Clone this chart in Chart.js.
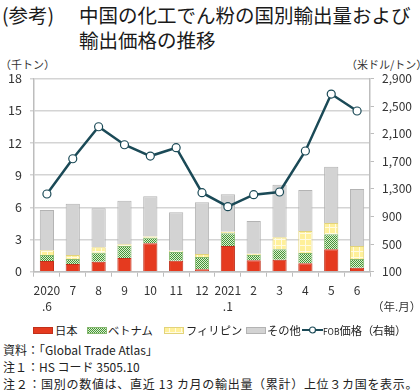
<!DOCTYPE html>
<html><head><meta charset="utf-8">
<script src="https://cdn.jsdelivr.net/npm/chart.js@4.4.1/dist/chart.umd.min.js"></script>
<style>
html,body{margin:0;padding:0;background:#fff;}
body{width:420px;height:390px;position:relative;overflow:hidden;font-family:"Noto Sans CJK JP","Noto Sans",sans-serif;color:#222;}
.abs{position:absolute;white-space:nowrap;}
.t{font-size:19.5px;line-height:25px;color:#1a1a1a;}
.u{font-size:11px;color:#333;}
.lg{font-size:11.3px;color:#222;line-height:14px;}
.nt{font-size:12px;color:#222;line-height:14px;}
.box{position:absolute;width:20px;height:7px;}
</style></head>
<body>
<div class="abs t" style="left:2px;top:2px;">(参考)</div>
<div class="abs t" style="left:79px;top:2px;">中国の化工でん粉の国別輸出量および</div>
<div class="abs t" style="left:79px;top:27px;">輸出価格の推移</div>
<div class="abs u" style="left:0px;top:56px;">（千トン）</div>
<div class="abs u" style="left:346px;top:56px;">（米ドル/トン）</div>
<canvas id="c" width="420" height="262" style="position:absolute;left:0;top:60px;"></canvas>
<div class="abs u" style="left:372px;top:298px;font-size:11.5px;">（年.月）</div>
<div id="legend"></div>
<div class="abs nt" style="left:3px;top:343px;">資料：「Global Trade Atlas」</div>
<div class="abs nt" style="left:3px;top:360px;">注１：HS コード 3505.10</div>
<div class="abs nt" style="left:3px;top:377px;letter-spacing:0.7px;">注２：国別の数値は、直近 13 カ月の輸出量（累計）上位３カ国を表示。</div>
<script>
const categories = [["2020",".6"],"7","8","9","10","11","12",["2021",".1"],"2","3","4","5","6"];
const japan       = [1.00,0.72,0.93,1.28,2.65,1.03,0.22,2.40,1.06,1.12,0.78,2.09,0.37];
const vietnam     = [0.55,0.46,0.84,1.12,0.52,0.81,1.15,1.18,0.50,0.97,0.96,1.40,0.81];
const philippines = [0.45,0.38,0.50,0.15,0.10,0.12,0.28,0.15,0.12,1.12,2.06,1.05,1.22];
const others      = [3.75,4.76,3.64,4.05,3.76,3.58,4.82,3.49,3.05,4.88,3.82,5.23,5.31];
const fobPrice    = [1226,1737,2201,1940,1776,1897,1245,1042,1216,1255,1849,2675,2429];
const leftTicks   = [0,3,6,9,12,15,18];
const rightTicks  = [100,500,900,1300,1700,2100,2500,2900];

function makePattern(kind){
  const c=document.createElement('canvas');
  const x=c.getContext('2d');
  if(kind==='green'){
    c.width=2;c.height=2;
    x.fillStyle='#dcefcf';x.fillRect(0,0,2,2);
    x.fillStyle='#46963a';x.fillRect(0,0,1,1);x.fillRect(1,1,1,1);
  } else {
    c.width=6;c.height=6;
    x.fillStyle='#fff09a';x.fillRect(0,0,6,6);
    x.fillStyle='#fffbe2';x.fillRect(5,0,1,6);x.fillRect(0,5,6,1);
  }
  return x.createPattern(c,'repeat');
}
const greenPat=makePattern('green');
const yellowPat=makePattern('yellow');
const LINE='#1b4a57';

// legend
const lg=document.getElementById('legend');
function addBox(left,fill,border,pat){
  const d=document.createElement('canvas');d.width=20;d.height=7;d.className='box';
  d.style.left=left+'px';d.style.top='327px';
  const x=d.getContext('2d');x.fillStyle=pat||fill;x.fillRect(0,0,20,7);
  x.strokeStyle=border;x.lineWidth=1;x.strokeRect(0.5,0.5,19,6);
  lg.appendChild(d);
}
function addText(left,txt){
  const d=document.createElement('div');d.className='abs lg';d.style.left=left+'px';d.style.top='323px';d.innerHTML=txt;lg.appendChild(d);
}
addBox(33,'#e53a1f','#c1301a');addText(55,'日本');
addBox(87,null,'#86b870',greenPat);addText(108,'ベトナム');
addBox(164,null,'#e2d37a',yellowPat);addText(186,'フィリピン');
addBox(246,'#d3d3d3','#b3b3b3');addText(267,'その他');
(function(){
  const d=document.createElement('canvas');d.width=21;d.height=12;d.style.position='absolute';d.style.left='302px';d.style.top='324px';
  const x=d.getContext('2d');x.strokeStyle=LINE;x.lineWidth=2;x.beginPath();x.moveTo(0,6);x.lineTo(21,6);x.stroke();
  x.fillStyle='#fff';x.lineWidth=1.2;x.beginPath();x.arc(10.5,6,3,0,Math.PI*2);x.fill();x.stroke();
  lg.appendChild(d);
})();
addText(323,'<span style="font-size:8.5px">FOB</span>価格<span style="letter-spacing:-1px">（</span>右軸<span>）</span>');

const tickFont={family:'"Noto Sans CJK JP","Noto Sans",sans-serif',size:12.5};
new Chart(document.getElementById('c'),{
  data:{
    labels:categories,
    datasets:[
      {type:'line',label:'FOB価格（右軸）',data:fobPrice,yAxisID:'y2',borderColor:LINE,borderWidth:2.5,
       pointRadius:4,pointBackgroundColor:'#fff',pointBorderColor:LINE,pointBorderWidth:1.2,tension:0,order:0},
      {type:'bar',label:'日本',data:japan,backgroundColor:'#e53a1f',borderColor:'#c1301a',borderWidth:1,yAxisID:'y',order:1},
      {type:'bar',label:'ベトナム',data:vietnam,backgroundColor:greenPat,borderColor:'#86b870',borderWidth:1,yAxisID:'y',order:1},
      {type:'bar',label:'フィリピン',data:philippines,backgroundColor:yellowPat,borderColor:'#e2d37a',borderWidth:1,yAxisID:'y',order:1},
      {type:'bar',label:'その他',data:others,backgroundColor:'#d3d3d3',borderColor:'#b3b3b3',borderWidth:1,yAxisID:'y',order:1}
    ]
  },
  options:{
    responsive:false,animation:false,devicePixelRatio:1,
    layout:{padding:{top:18.5,left:0,right:0,bottom:0}},
    plugins:{legend:{display:false},tooltip:{enabled:false}},
    datasets:{bar:{barPercentage:0.55,categoryPercentage:1}},
    scales:{
      x:{stacked:true,offset:true,
         grid:{display:true,drawOnChartArea:false,offset:true,tickLength:5,color:'#bdbdbd',lineWidth:1},
         border:{color:'#bdbdbd',width:1.5},
         ticks:{font:{...tickFont,size:12,lineHeight:1.3},color:'#333',padding:6,maxRotation:0,autoSkip:false},
         afterFit:s=>{s.height=50.3;}},
      y:{stacked:true,position:'left',min:0,max:18,
         afterBuildTicks:s=>{s.ticks=leftTicks.map(v=>({value:v}));},
         grid:{color:'#d4d4d4',lineWidth:1.5,tickLength:4,drawTicks:true},
         border:{color:'#bdbdbd',width:1.5},
         ticks:{font:tickFont,color:'#333',padding:8},
         afterFit:s=>{s.width=34;}},
      y2:{position:'right',min:100,max:2900,
         afterBuildTicks:s=>{s.ticks=rightTicks.map(v=>({value:v}));},
         grid:{drawOnChartArea:false,tickLength:4,color:'#bdbdbd'},
         border:{color:'#bdbdbd',width:1.5},
         ticks:{font:{...tickFont,size:12},color:'#333',padding:8,callback:v=>v.toLocaleString('en-US')},
         afterFit:s=>{s.width=50;}}
    }
  }
});
</script>
</body></html>
